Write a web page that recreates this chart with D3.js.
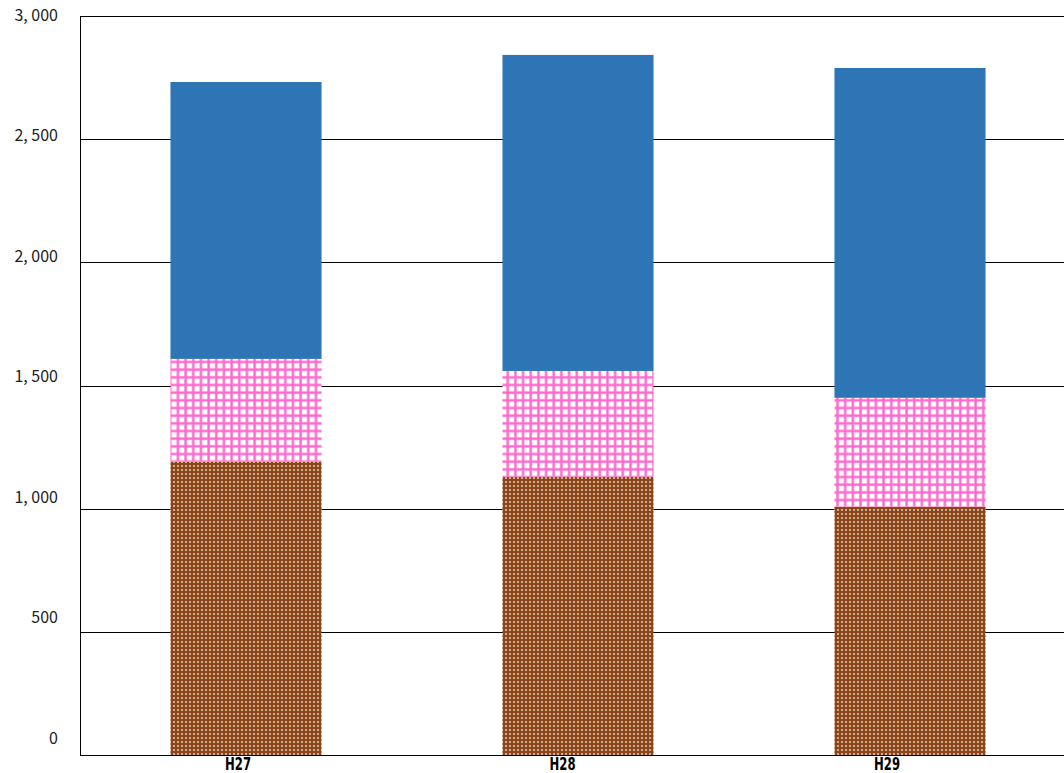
<!DOCTYPE html>
<html><head><meta charset="utf-8">
<script src="https://cdn.jsdelivr.net/npm/d3@7"></script>
<style>html,body{margin:0;padding:0;background:#fff;overflow:hidden}</style>
</head><body>
<svg id="c" width="1064" height="773"></svg>
<script>
const categories = ["H27", "H28", "H29"];
const seriesBottom = [1191, 1130, 1008];
const seriesMiddle = [417, 429, 442];
const seriesTop = [1124, 1283, 1339];
const yTickValues = [0, 500, 1000, 1500, 2000, 2500, 3000];
const yTickLabels = ["0", "500", "1, 000", "1, 500", "2, 000", "2, 500", "3, 000"];

(function () {
const svg = d3.select("#c");
const defs = svg.append("defs");

// brown dotted pattern
const pb = defs.append("pattern").attr("id","pBrown").attr("patternUnits","userSpaceOnUse")
  .attr("width",4).attr("height",4);
pb.append("rect").attr("width",4).attr("height",4).attr("fill","#8a461b");
pb.append("rect").attr("x",1).attr("y",1).attr("width",2).attr("height",2).attr("fill","#c89470");
pb.append("rect").attr("x",1.5).attr("y",1.5).attr("width",1).attr("height",1).attr("fill","#fff4ea");

// pink grid pattern
const P = 7.67;
const pp = defs.append("pattern").attr("id","pPink").attr("patternUnits","userSpaceOnUse")
  .attr("width",P).attr("height",P);
pp.append("rect").attr("width",P).attr("height",P).attr("fill","#ffffff");
pp.append("rect").attr("x",0).attr("y",0).attr("width",P).attr("height",3).attr("fill","#ffc2e8");
pp.append("rect").attr("x",0).attr("y",0).attr("width",3).attr("height",P).attr("fill","#ffc2e8");
pp.append("rect").attr("x",0).attr("y",0.5).attr("width",P).attr("height",2).attr("fill","#ff66cc");
pp.append("rect").attr("x",0.5).attr("y",0).attr("width",2).attr("height",P).attr("fill","#ff66cc");

const mLeft = 80, mRight = 1076, mTop = 16, mBottom = 755;
const x = d3.scaleBand().domain(categories).range([mLeft, mRight]).paddingInner(0.545).paddingOuter(0.2725);
const xLabel = d3.scalePoint().domain(categories).range([238, 887]);
const y = d3.scaleLinear().domain([0, 3000]).range([mBottom, mTop]);
const yLabel = d3.scaleLinear().domain([0, 3000]).range([738, 15]);

// gridlines
svg.append("g").selectAll("line").data(yTickValues.filter(v => v > 0)).join("line")
  .attr("x1", mLeft).attr("x2", 1064)
  .attr("y1", d => Math.round(y(d)) + 0.5).attr("y2", d => Math.round(y(d)) + 0.5)
  .attr("stroke", "#000").attr("stroke-width", 1);

const rows = categories.map((c, i) => ({cat: c, b: seriesBottom[i], m: seriesMiddle[i], t: seriesTop[i]}));
const stack = d3.stack().keys(["b","m","t"])(rows);
const fills = {b: "url(#pBrown)", m: "url(#pPink)", t: "#2e75b6"};

svg.append("g").selectAll("g").data(stack).join("g")
  .attr("fill", d => fills[d.key])
  .selectAll("rect").data(d => d).join("rect")
  .attr("x", d => x(d.data.cat))
  .attr("width", x.bandwidth())
  .attr("y", d => y(d[1]))
  .attr("height", d => y(d[0]) - y(d[1]));

// axes
svg.append("line").attr("x1", mLeft + 0.5).attr("x2", mLeft + 0.5).attr("y1", mTop).attr("y2", mBottom + 0.5)
  .attr("stroke", "#000");
svg.append("line").attr("x1", mLeft).attr("x2", 1064).attr("y1", mBottom + 0.5).attr("y2", mBottom + 0.5)
  .attr("stroke", "#000");

// y labels
svg.append("g").selectAll("text").data(yTickValues).join("text")
  .attr("x", 58).attr("y", d => yLabel(d))
  .attr("dy", "0.35em")
  .attr("text-anchor", "end")
  .attr("font-family", "'Noto Sans CJK JP', 'Noto Sans', sans-serif")
  .attr("font-size", 16).attr("fill", "#222")
  .text((d, i) => yTickLabels[i]);

// x labels
svg.append("g").selectAll("text").data(categories).join("text")
  .attr("x", d => xLabel(d) - 13).attr("y", 770)
  .attr("textLength", 26).attr("lengthAdjust", "spacingAndGlyphs")
  .attr("font-family", "'Liberation Sans Narrow', 'DejaVu Sans Condensed', sans-serif")
  .attr("font-weight", "bold").attr("font-size", 17).attr("fill", "#000")
  .text(d => d);
})();
</script>
</body></html>
